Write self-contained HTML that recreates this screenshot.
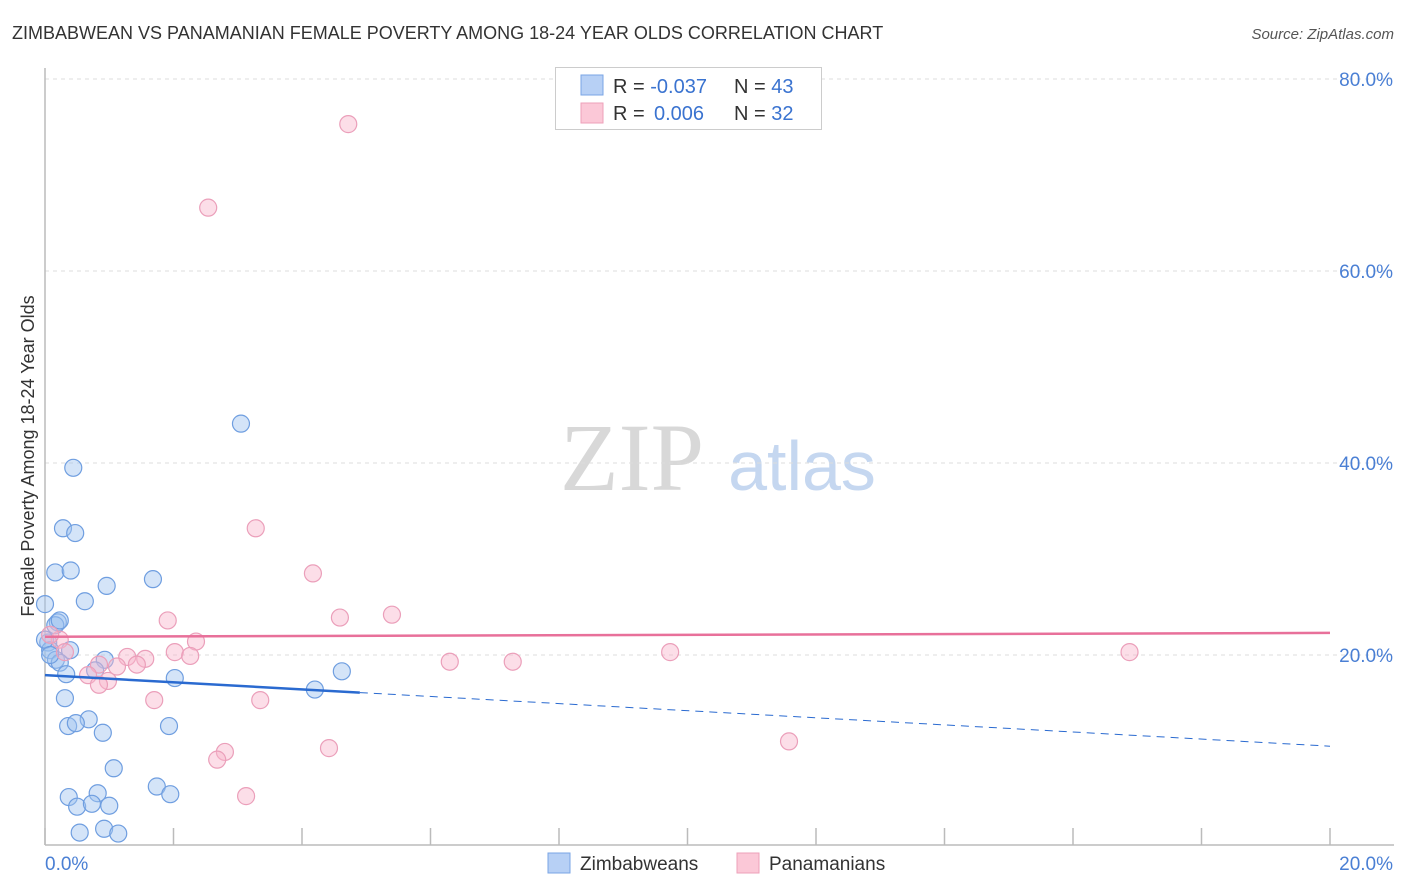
<!DOCTYPE html>
<html><head><meta charset="utf-8">
<style>
body{margin:0;background:#fff;font-family:"Liberation Sans",sans-serif;}
svg{display:block}
</style></head>
<body>
<svg id="chart" width="1406" height="892" viewBox="0 0 1406 892" xmlns="http://www.w3.org/2000/svg">
<text x="12" y="39" font-size="18" fill="#333">ZIMBABWEAN VS PANAMANIAN FEMALE POVERTY AMONG 18-24 YEAR OLDS CORRELATION CHART</text>
<text x="1394" y="39" font-size="15" font-style="italic" fill="#555" text-anchor="end">Source: ZipAtlas.com</text>
<text transform="translate(34,456) rotate(-90)" font-size="18" fill="#333" text-anchor="middle">Female Poverty Among 18-24 Year Olds</text>
<g>
<text x="632" y="490" font-family="Liberation Serif,serif" font-size="96" fill="#d8d8d8" text-anchor="middle">ZIP</text>
<text x="802" y="490" font-size="70" fill="#c5d7f0" text-anchor="middle">atlas</text>
</g>
<g id="grid"></g>
<g id="axes"></g>
<g id="marks"></g>
<g>
<rect x="555.5" y="67.5" width="266" height="62" fill="#fff" stroke="#ccc"/>
<rect x="581" y="75" width="22" height="20" fill="#b7d0f5" stroke="#7aa5e5"/>
<rect x="581" y="103" width="22" height="20" fill="#fbc8d7" stroke="#eea0ba"/>
<text x="613" y="93" font-size="20" fill="#333">R = <tspan fill="#3a73d0">-0.037</tspan><tspan x="734">N = </tspan><tspan fill="#3a73d0">43</tspan></text>
<text x="613" y="120" font-size="20" fill="#333">R = <tspan x="654" fill="#3a73d0">0.006</tspan><tspan x="734">N = </tspan><tspan fill="#3a73d0">32</tspan></text>
</g>
<g>
<rect x="548" y="853" width="22" height="20" fill="#b7d0f5" stroke="#7aa5e5"/>
<text x="580" y="870" font-size="19" fill="#333">Zimbabweans</text>
<rect x="737" y="853" width="22" height="20" fill="#fbc8d7" stroke="#eea0ba"/>
<text x="769" y="870" font-size="19" fill="#333">Panamanians</text>
</g>
</svg>
<script>
const blueX=[0.44,0.28,0.47,0.16,0.40,0.96,1.68,0.62,0,0.20,0.16,0.05,0.08,0.39,0.17,0.23,0.93,0.78,0.33,2.02,0.31,4.20,4.62,3.05,0.36,0.68,0.48,0.90,1.93,1.07,0.37,0.82,0.50,0.73,1.00,1.74,1.95,0.54,0.92,1.14,0,0.08,0.23];
const blueY=[39.5,33.2,32.7,28.6,28.8,27.2,27.9,25.6,25.3,23.4,23.1,21.3,20.5,20.5,19.5,19.2,19.5,18.4,18.0,17.6,15.5,16.4,18.3,44.1,12.6,13.3,12.9,11.9,12.6,8.2,5.2,5.6,4.2,4.5,4.3,6.3,5.5,1.5,1.9,1.4,21.6,20.0,23.6];
const pinkX=[4.72,2.54,3.28,4.17,4.59,5.40,1.91,2.35,2.02,2.26,1.56,1.28,1.43,1.12,0.84,0.67,0.98,0.84,0.23,0.08,0.31,1.70,3.35,6.30,7.28,9.73,16.88,4.42,2.80,2.68,3.13,11.58];
const pinkY=[75.3,66.6,33.2,28.5,23.9,24.2,23.6,21.4,20.3,19.9,19.6,19.8,19.0,18.8,19.0,17.9,17.3,16.9,21.6,22.1,20.3,15.3,15.3,19.3,19.3,20.3,20.3,10.3,9.9,9.1,5.3,11.0];
const yTicks=[20,40,60,80];
const yTickLabels=["20.0%","40.0%","60.0%","80.0%"];
const xTicks=[0,2,4,6,8,10,12,14,16,18,20];
const xEndLabels=["0.0%","20.0%"];
const blueTrend=[17.9,10.5]; // at x=0 and x=20
const blueSolidEnd=4.9;
const pinkTrend=[21.9,22.3];

const NS="http://www.w3.org/2000/svg";
const X0=45,X1=1330,Y0=847,YPX=9.6;
function sx(v){return X0+(X1-X0)*v/20;}
function sy(v){return Y0-v*YPX;}
function mk(tag,attrs,parent){const e=document.createElementNS(NS,tag);for(const k in attrs)e.setAttribute(k,attrs[k]);parent.appendChild(e);return e;}
const grid=document.getElementById('grid'),axes=document.getElementById('axes'),marks=document.getElementById('marks');
yTicks.forEach((t,i)=>{
  const l=mk('line',{x1:X0,x2:1392,y1:sy(t),y2:sy(t),stroke:'#ddd','stroke-dasharray':'4,4'},grid);
  
  
  const tx=mk('text',{x:1393,y:sy(t)+7,'font-size':19,fill:'#4a7fd4','text-anchor':'end'},axes);
  tx.textContent=yTickLabels[i];
  
  
});
const ax=mk('line',{x1:X0,x2:X0,y1:68,y2:845,stroke:'#bbb','stroke-width':1.5},axes);


const bx=mk('line',{x1:X0,x2:1394,y1:845,y2:845,stroke:'#bbb','stroke-width':1.5},axes);


xTicks.forEach(t=>{
  const l=mk('line',{x1:sx(t),x2:sx(t),y1:828,y2:845,stroke:'#bbb','stroke-width':1.5},axes);
  
  
});
const xl0=mk('text',{x:45,y:870,'font-size':19,fill:'#4a7fd4'},axes);xl0.textContent=xEndLabels[0];


const xl1=mk('text',{x:1393,y:870,'font-size':19,fill:'#4a7fd4','text-anchor':'end'},axes);xl1.textContent=xEndLabels[1];



function pt(x,y,fill,stroke,name){
  const c=mk('circle',{cx:sx(x),cy:sy(y),r:8.5,fill:fill,stroke:stroke,'stroke-width':1.2},marks);
  
  
}
blueX.forEach((x,i)=>pt(x,blueY[i],'rgba(160,195,240,0.45)','#6f9ee0','zimbabwean-point'));
pinkX.forEach((x,i)=>pt(x,pinkY[i],'rgba(248,182,204,0.45)','#eb9fba','panamanian-point'));

function ty(tr,x){return tr[0]+(tr[1]-tr[0])*x/20;}
const pl=mk('line',{x1:sx(0),y1:sy(pinkTrend[0]),x2:sx(20),y2:sy(pinkTrend[1]),stroke:'#e8709a','stroke-width':2.5},marks);


const bl=mk('line',{x1:sx(0),y1:sy(blueTrend[0]),x2:sx(blueSolidEnd),y2:sy(ty(blueTrend,blueSolidEnd)),stroke:'#2a6ad0','stroke-width':2.5},marks);


const bd=mk('line',{x1:sx(blueSolidEnd),y1:sy(ty(blueTrend,blueSolidEnd)),x2:sx(20),y2:sy(blueTrend[1]),stroke:'#2a6ad0','stroke-width':1,'stroke-dasharray':'8,6'},marks);


</script>
</body></html>
